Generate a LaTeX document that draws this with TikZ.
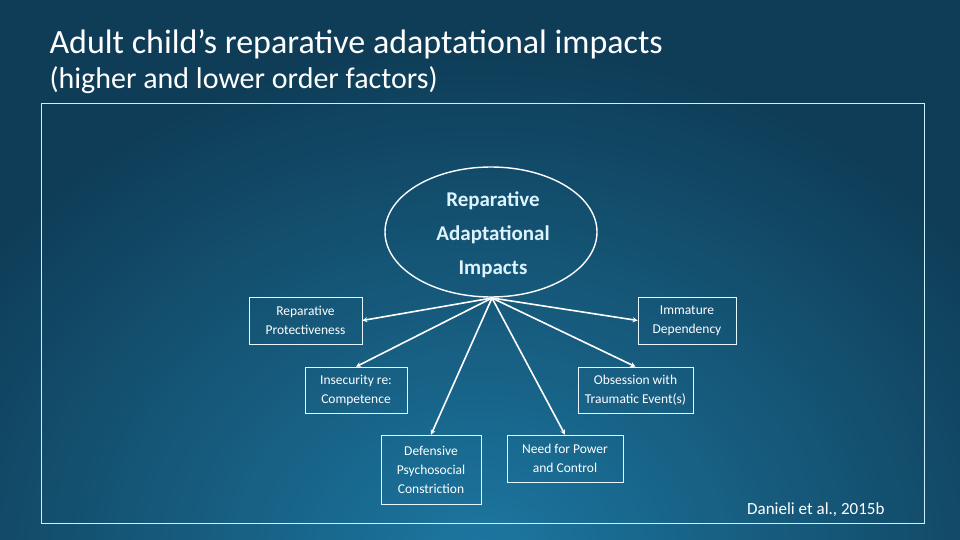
\documentclass[tikz,border=0pt]{standalone}
\usepackage{fontspec}
\setmainfont{Carlito}
\usetikzlibrary{shapes.geometric,arrows.meta}
\definecolor{bgdark}{HTML}{0F3D57}
\definecolor{bgmid}{HTML}{155A7C}
\definecolor{bglight}{HTML}{1F7EAA}
\definecolor{txtcol}{HTML}{DDF4FF}
\begin{document}
\begin{tikzpicture}[x=1pt,y=-1pt,
  box/.style={draw=white!90!cyan,line width=0.6pt,align=center,text=white,font=\fontsize{13.5}{19}\selectfont,inner sep=0pt},
  arr/.style={draw=white,line width=1.6pt,-{Stealth[length=5pt,width=5pt]}}]
\useasboundingbox (0,0) rectangle (960,540);
\fill[bgdark] (0,0) rectangle (960,540);
\shade[inner color=bglight,outer color=bgdark,opacity=0.9] (480,560) ellipse (620 and 520);
\node[anchor=west,text=white,font=\fontsize{34}{38}\selectfont] (t1) at (46,44) {Adult child’s reparative adaptational impacts};
\node[anchor=west,text=white,font=\fontsize{30}{34}\selectfont] (t2) at (46,80) {(higher and lower order factors)};
\draw[white!80!cyan,line width=0.6pt] (41,103) rectangle (924,523);
\node[ellipse,draw=white,line width=1.4pt,minimum width=212pt,minimum height=130pt,inner sep=0pt] (e) at (491,232) {};
\node[text=txtcol,font=\bfseries\fontsize{21}{34}\selectfont,align=center] (et) at (493,235) {Reparative\\Adaptational\\Impacts};
\coordinate (o) at (492,298);
\node[box,minimum width=113pt,minimum height=47pt] (b1) at (305.5,320.5) {Reparative\\Protectiveness};
\node[box,minimum width=98pt,minimum height=47pt] (b2) at (687,320.5) {Immature\\Dependency};
\node[box,minimum width=102pt,minimum height=46pt] (b3) at (356,390) {Insecurity re:\\Competence};
\node[box,minimum width=115pt,minimum height=46pt] (b4) at (635.5,390) {Obsession with\\Traumatic Event(s)};
\node[box,minimum width=100pt,minimum height=69pt] (b5) at (431,469.5) {Defensive\\Psychosocial\\Constriction};
\node[box,minimum width=116pt,minimum height=47pt] (b6) at (565,458.5) {Need for Power\\and Control};
\draw[arr] (o) -- (b1.east);
\draw[arr] (o) -- (b2.west);
\draw[arr] (o) -- (b3.north);
\draw[arr] (o) -- (b4.north);
\draw[arr] (o) -- (b5.north);
\draw[arr] (o) -- (b6.north);
\node[anchor=east,text=white,font=\fontsize{17}{20}\selectfont] (ref) at (888,510) {Danieli et al., 2015b};
\end{tikzpicture}
\end{document}
